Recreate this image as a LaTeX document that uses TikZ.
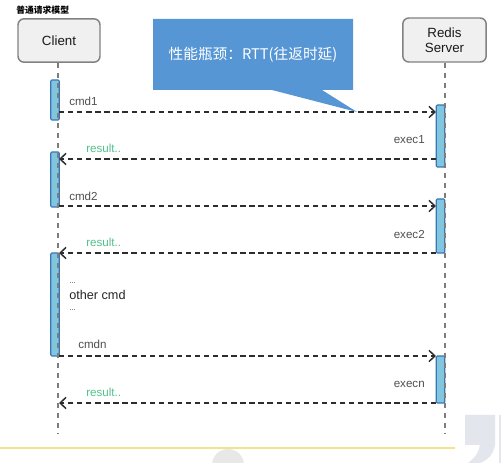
\documentclass[tikz,border=0pt]{standalone}
\usepackage{fontspec}
\setmainfont{Liberation Sans}
\newfontfamily\cjk{Noto Sans CJK SC}
\usetikzlibrary{arrows.meta}
\definecolor{barfill}{RGB}{128,198,222}
\definecolor{barline}{RGB}{58,118,182}
\definecolor{boxfill}{RGB}{240,240,240}
\definecolor{boxline}{RGB}{130,130,130}
\definecolor{lifegray}{RGB}{125,125,125}
\definecolor{msgline}{RGB}{45,45,45}
\definecolor{calloutblue}{RGB}{86,150,212}
\definecolor{resgreen}{RGB}{82,192,140}
\definecolor{labgray}{RGB}{80,80,80}
\definecolor{sepyellow}{RGB}{240,228,140}
\definecolor{decogray}{RGB}{232,232,232}
\definecolor{quotegray}{RGB}{227,230,237}
\tikzset{
  actor/.style={draw=boxline, fill=boxfill, line width=1.1pt, rounded corners=4.5pt,
    minimum width=61.5pt, minimum height=32.5pt, align=center, text=black!90,
    font=\fontsize{10}{11.5}\selectfont, inner sep=0pt},
  actbar/.style={draw=barline, fill=barfill, line width=0.8pt, rounded corners=0.8pt,
    minimum width=6.4pt, inner sep=0pt},
  lifeline/.style={draw=lifegray, line width=1.9pt, dash pattern=on 4.2pt off 3.3pt},
  msg/.style={draw=msgline, line width=1.1pt, dash pattern=on 4pt off 2.8pt,
    -{Straight Barb[length=4.5pt,width=8.5pt,line width=1.1pt]}},
  lab/.style={font=\fontsize{8.7}{10}\selectfont, text=labgray, inner sep=0pt},
  reslab/.style={lab, text=resgreen},
}
\begin{document}
\begin{tikzpicture}[x=0.75pt,y=-0.75pt]
\useasboundingbox (0,0) rectangle (501,463);
\fill[white] (0,0) rectangle (501,463);

% title
\node[anchor=west, inner sep=0pt, font=\cjk\bfseries\fontsize{6.6}{7}\selectfont] (title) at (16,10) {普通请求模型};

% actors
\node[actor] (client) at (59,40.5) {Client};
\node[actor, minimum width=62.5pt, minimum height=33pt] (server) at (444.5,40) {Redis\\Server};

% callout
\fill[calloutblue] (153,19) -- (353,19) -- (353,90) -- (322,90) -- (357,112) -- (272,90) -- (153,90) -- cycle;
\node[text=white, inner sep=0pt, font=\cjk\fontsize{11}{13}\selectfont] (note) at (253,55) {性能瓶颈：RTT(往返时延)};

% activation bars
\node[actbar, minimum height=30pt] (cb1) at (55,100) {};
\node[actbar, minimum height=41.25pt] (cb2) at (55,179.5) {};
\node[actbar, minimum height=77.25pt] (cb3) at (55,304.5) {};
\node[actbar, minimum height=46.5pt] (sb1) at (440.5,136) {};
\node[actbar, minimum height=40.5pt] (sb2) at (440.5,226) {};
\node[actbar, minimum height=35.25pt] (sb3) at (440.5,379.5) {};

% lifelines
\coordinate (cend) at (58,433);
\coordinate (send) at (445,433);
\draw[lifeline] (client.south -| cend) -- (cend);
\draw[lifeline] (server.south -| send) -- (send);

% message end points
\coordinate (c1) at (59,112);  \coordinate (s1) at (436,112);
\coordinate (s2) at (436,159); \coordinate (c2) at (59,159);
\coordinate (c3) at (59,206);  \coordinate (s3) at (436,206);
\coordinate (s4) at (436,253); \coordinate (c4) at (59,253);
\coordinate (c5) at (59,356);  \coordinate (s5) at (436,356);
\coordinate (s6) at (436,403); \coordinate (c6) at (59,403);

\draw[msg] (c1) -- (s1);
\draw[msg] (s2) -- (c2);
\draw[msg] (c3) -- (s3);
\draw[msg] (s4) -- (c4);
\draw[msg] (c5) -- (s5);
\draw[msg] (s6) -- (c6);

% labels
\node[lab, anchor=west] (l1) at (69,101) {cmd1};
\node[reslab, anchor=west] (r1) at (86,148) {result..};
\node[lab, anchor=east] (e1) at (425,140) {exec1};
\node[lab, anchor=west] (l2) at (69,196) {cmd2};
\node[reslab, anchor=west] (r2) at (86,242) {result..};
\node[lab, anchor=east] (e2) at (425,235) {exec2};
\node[lab, anchor=west, font=\fontsize{6}{7}\selectfont] (d1) at (69,283) {...};
\node[lab, anchor=west, text=black!85, font=\fontsize{9.5}{11}\selectfont] (oc) at (69,295) {other cmd};
\node[lab, anchor=west, font=\fontsize{6}{7}\selectfont] (d2) at (69,310) {...};
\node[lab, anchor=west] (ln) at (78,344) {cmdn};
\node[reslab, anchor=west] (rn) at (86,392) {result..};
\node[lab, anchor=east] (en) at (425,384) {execn};

% page decorations
\draw[sepyellow, line width=1.5pt] (0,448) -- (455,448);
\fill[decogray] (228,465) circle[radius=16];
\fill[quotegray] (465,415) -- (495,415) -- (495,445) .. controls (493,455) and (488,460) .. (480,463)
  -- (468,463) .. controls (475,458) and (479,452) .. (480,445) -- (465,445) -- cycle;
\fill[quotegray] (499,415) rectangle (501,463);
\end{tikzpicture}
\end{document}
